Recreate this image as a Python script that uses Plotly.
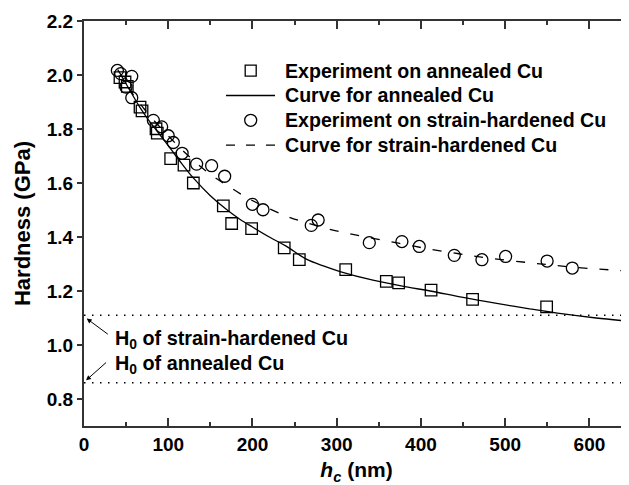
import plotly.graph_objects as go

# --- data ---
ann_x = [42.7, 48.7, 51.4, 66.5, 68.9, 85.5, 87.0, 102.9, 118.7, 129.8, 165.4, 175.3,
         199.0, 237.7, 255.6, 310.7, 358.9, 373.5, 412.0, 461.3, 549.2]
ann_y = [1.990, 1.974, 1.958, 1.881, 1.867, 1.801, 1.785, 1.690, 1.666, 1.600, 1.515, 1.450,
         1.431, 1.360, 1.316, 1.279, 1.236, 1.230, 1.203, 1.169, 1.141]

sh_x = [39.6, 43.6, 56.7, 49.9, 56.7, 82.3, 92.2, 100.0, 106.0, 116.5, 133.7, 151.5, 167.0,
        199.9, 212.5, 269.8, 278.0, 338.7, 377.4, 398.0, 439.6, 472.4, 500.5, 549.8, 579.7]
sh_y = [2.017, 2.005, 1.995, 1.955, 1.916, 1.832, 1.808, 1.775, 1.750, 1.710, 1.670, 1.664, 1.625,
        1.521, 1.501, 1.443, 1.463, 1.379, 1.383, 1.365, 1.332, 1.316, 1.328, 1.311, 1.285]

ann_curve_x = [44, 55, 66, 76, 86, 102, 116, 130, 150, 170, 185, 200, 220, 240, 264, 285,
               304, 343, 383, 411, 450, 490, 529, 569, 608, 647]
ann_curve_y = [2.000, 1.940, 1.882, 1.836, 1.795, 1.730, 1.672, 1.618, 1.553, 1.500, 1.466,
               1.437, 1.400, 1.366, 1.318, 1.292, 1.272, 1.240, 1.215, 1.200, 1.176, 1.154,
               1.134, 1.115, 1.100, 1.088]

sh_curve_x = [40, 50, 60, 70, 82, 100, 120, 148, 172, 195, 220, 243, 265, 290, 314, 338,
              362, 385, 409, 445, 480, 528, 565, 602, 647]
sh_curve_y = [2.020, 1.970, 1.920, 1.880, 1.835, 1.775, 1.712, 1.637, 1.587, 1.543, 1.505,
              1.474, 1.452, 1.430, 1.413, 1.398, 1.384, 1.370, 1.356, 1.338, 1.322, 1.305,
              1.293, 1.283, 1.274]

h0_values = [1.11, 0.86]   # strain-hardened, annealed
h0_labels = ["H<sub>0</sub> of strain-hardened Cu", "H<sub>0</sub> of annealed Cu"]
legend_labels = ["Experiment on annealed Cu", "Curve for annealed Cu",
                 "Experiment on strain-hardened Cu", "Curve for strain-hardened Cu"]
x_range = [0, 647]
y_range = [0.7, 2.2]

FONT = "Liberation Sans, Arial, sans-serif"
BOLD = dict(family=FONT, color="black", weight="bold")

fig = go.Figure()
fig.add_trace(go.Scatter(x=ann_x, y=ann_y, mode="markers", name=legend_labels[0],
                         marker=dict(symbol="square-open", size=11.5, color="black",
                                     line=dict(width=1.3, color="black"))))
fig.add_trace(go.Scatter(x=ann_curve_x, y=ann_curve_y, mode="lines", name=legend_labels[1],
                         line=dict(color="black", width=1.3), line_shape="spline"))
fig.add_trace(go.Scatter(x=sh_x, y=sh_y, mode="markers", name=legend_labels[2],
                         marker=dict(symbol="circle-open", size=12, color="black",
                                     line=dict(width=1.3, color="black"))))
fig.add_trace(go.Scatter(x=sh_curve_x, y=sh_curve_y, mode="lines", name=legend_labels[3],
                         line=dict(color="black", width=1.3, dash="9px,12px"), line_shape="spline"))

for h0 in h0_values:
    fig.add_hline(y=h0, line=dict(color="black", width=1.5, dash="1.5px,6.5px"))

# arrows pointing at the H0 levels on the y axis
fig.add_annotation(x=3.2, y=1.098, ax=30, ay=1.036, axref="x", ayref="y", text="",
                   showarrow=True, arrowhead=2, arrowsize=1, arrowwidth=1, arrowcolor="black")
fig.add_annotation(x=2.4, y=0.869, ax=28, ay=0.94, axref="x", ayref="y", text="",
                   showarrow=True, arrowhead=2, arrowsize=1, arrowwidth=1, arrowcolor="black")
fig.add_annotation(x=35.0, y=1.022, xanchor="left", yanchor="middle", showarrow=False,
                   text=h0_labels[0], font=dict(size=19.8, **BOLD))
fig.add_annotation(x=35.0, y=0.929, xanchor="left", yanchor="middle", showarrow=False,
                   text=h0_labels[1], font=dict(size=19.8, **BOLD))

# ---- page geometry (the page body has an 8px margin) ----
BODY = 8
W_PLOT, H_PLOT = 545, 405
L_ABS, T_ABS = 84, 21           # plot-area top-left in the screenshot
def px(xp):
    return (xp - L_ABS) / W_PLOT
def py(yp):
    return (T_ABS + H_PLOT - yp) / H_PLOT

# ---- legend drawn in paper coordinates ----
row_y = [70.7, 95.5, 120.3, 145.1]
sym_cx, line_x0, line_x1, text_x = 250.7, 226, 275, 283

fig.add_shape(type="rect", xref="paper", yref="paper", xsizemode="pixel", ysizemode="pixel",
              xanchor=px(sym_cx), yanchor=py(row_y[0]), x0=-5.5, x1=5.5, y0=-5.5, y1=5.5,
              line=dict(color="black", width=1.3))
fig.add_shape(type="line", xref="paper", yref="paper", x0=px(line_x0), x1=px(line_x1),
              y0=py(row_y[1]), y1=py(row_y[1]), line=dict(color="black", width=1.3))
fig.add_shape(type="circle", xref="paper", yref="paper", xsizemode="pixel", ysizemode="pixel",
              xanchor=px(sym_cx), yanchor=py(row_y[2]), x0=-6, x1=6, y0=-6, y1=6,
              line=dict(color="black", width=1.3))
fig.add_shape(type="line", xref="paper", yref="paper", x0=px(line_x0), x1=px(line_x1),
              y0=py(row_y[3]), y1=py(row_y[3]),
              line=dict(color="black", width=1.3, dash="9px,11px"))
for lbl, ry in zip(legend_labels, row_y):
    fig.add_annotation(xref="paper", yref="paper", x=px(text_x), y=py(ry), xanchor="left",
                       yanchor="middle", showarrow=False, text=lbl, font=dict(size=19.6, **BOLD))

axis_common = dict(showgrid=False, zeroline=False, showline=True, linecolor="#333333",
                   linewidth=2, tickcolor="#333333", automargin=False,
                   tickfont=dict(size=19, **BOLD))

fig.update_xaxes(range=x_range, tick0=0, dtick=100, ticks="inside", ticklen=8, tickwidth=1.5,
                 mirror="ticks", minor=dict(dtick=50, ticks="inside", ticklen=4, tickwidth=1.5,
                                            tickcolor="#333333"),
                 title=dict(text="<i>h<sub>c</sub></i> (nm)", standoff=9,
                            font=dict(size=21, **BOLD)),
                 **axis_common)
fig.update_yaxes(range=y_range, tick0=0, dtick=0.2, tickformat=".1f", ticks="outside",
                 ticklen=5, tickwidth=1.5, mirror=False,
                 title=dict(text="Hardness (GPa)", standoff=10,
                            font=dict(size=22, **BOLD)),
                 **axis_common)

FIG_W, FIG_H = 629 - BODY, 485 - BODY
fig.update_layout(
    width=FIG_W, height=FIG_H,
    margin=dict(l=L_ABS - BODY, r=FIG_W - (L_ABS - BODY) - W_PLOT, t=T_ABS - BODY,
                b=FIG_H - (T_ABS - BODY) - H_PLOT),
    paper_bgcolor="white", plot_bgcolor="white",
    font=dict(family=FONT, color="black"),
    showlegend=False,
)

fig.write_html("out.html")
